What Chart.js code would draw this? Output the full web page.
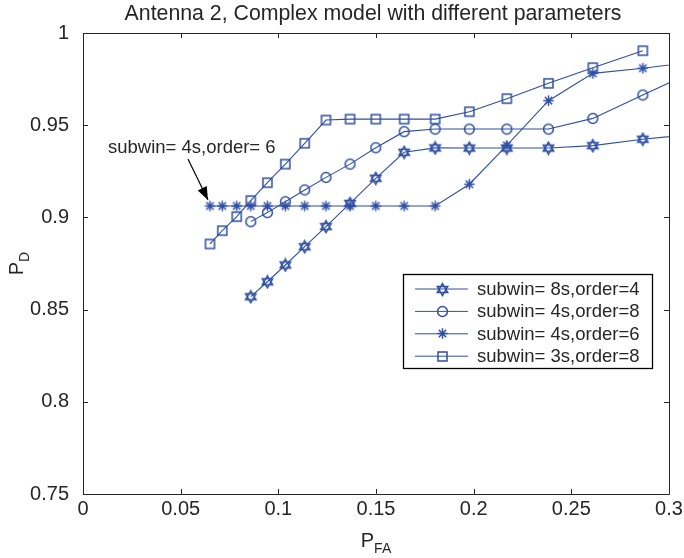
<!DOCTYPE html>
<html>
<head>
<meta charset="utf-8">
<script src="https://cdn.jsdelivr.net/npm/chart.js@4.4.1/dist/chart.umd.min.js"></script>
<style>
  html, body { margin: 0; padding: 0; background: #fff; }
  #wrap { width: 684px; height: 558px; }
</style>
</head>
<body>
<div id="wrap"><canvas id="roc"></canvas></div>
<script>

///////////   DATA  /////////////////

const pfa = [0.065, 0.0713, 0.0787, 0.0859, 0.0944, 0.1036, 0.1135, 0.1244, 0.1367,
             0.1499, 0.1644, 0.1803, 0.1978, 0.217, 0.2383, 0.261, 0.2866, 0.3146];

const pd_8s_o4 = [null, null, null, 0.857, 0.8651, 0.8742, 0.8841, 0.895, 0.9076,
                  0.9212, 0.9353, 0.9377, 0.9376, 0.9376, 0.9376, 0.9389, 0.9424, 0.9453];
const pd_4s_o8 = [null, null, null, 0.8977, 0.9026, 0.9085, 0.9149, 0.9217, 0.9289,
                  0.9378, 0.9465, 0.9479, 0.9479, 0.9479, 0.9479, 0.9537, 0.9664, 0.9802];
const pd_4s_o6 = [0.9062, 0.9062, 0.9062, 0.9062, 0.9062, 0.9062, 0.9062, 0.9062, 0.9062,
                  0.9062, 0.9062, 0.9062, 0.918, 0.939, 0.9633, 0.9781, 0.9809, 0.9845];
const pd_3s_o8 = [0.8856, 0.8928, 0.9004, 0.9091, 0.9188, 0.9289, 0.9402, 0.9528, 0.9533,
                  0.9533, 0.9533, 0.9533, 0.9573, 0.9644, 0.9727, 0.9812, 0.9904, null];

const seriesLabels = ["subwin= 8s,order=4", "subwin= 4s,order=8", "subwin= 4s,order=6", "subwin= 3s,order=8"];
const xTicks = [0, 0.05, 0.1, 0.15, 0.2, 0.25, 0.3];
const yTicks = [0.75, 0.8, 0.85, 0.9, 0.95, 1];

const titleText = "Antenna 2, Complex model with different parameters";
const noteText = "subwin= 4s,order= 6";

const BLUE = "#2f4fa3";
const INK = "#262626";
const FONT = "'Liberation Sans', Arial, sans-serif";

///////////   MARKERS  /////////////////

function makeMarker(kind) {
  const c = document.createElement("canvas");
  c.width = 15; c.height = 15;
  const g = c.getContext("2d");
  const m = 7.5;
  g.strokeStyle = BLUE;
  g.lineWidth = 1.5;
  g.beginPath();
  if (kind === "hex") {
    const r = 6;
    for (let t = 0; t < 2; t++) {
      const start = t === 0 ? -Math.PI / 2 : Math.PI / 2;
      for (let k = 0; k < 3; k++) {
        const a = start + k * 2 * Math.PI / 3;
        const px = m + r * Math.cos(a), py = m + r * Math.sin(a);
        if (k === 0) g.moveTo(px, py); else g.lineTo(px, py);
      }
      g.closePath();
    }
  } else if (kind === "circle") {
    g.arc(m, m, 4.9, 0, Math.PI * 2);
  } else if (kind === "star") {
    const r = 5.2, d = 3.7;
    g.moveTo(m - r, m); g.lineTo(m + r, m);
    g.moveTo(m, m - r); g.lineTo(m, m + r);
    g.moveTo(m - d, m - d); g.lineTo(m + d, m + d);
    g.moveTo(m - d, m + d); g.lineTo(m + d, m - d);
  } else {
    g.rect(3, 3, 9, 9);
  }
  g.stroke();
  return c;
}

const markers = [makeMarker("hex"), makeMarker("circle"), makeMarker("star"), makeMarker("square")];

function pts(ys) {
  return pfa.map((x, i) => ({ x: x, y: ys[i] })).filter(p => p.y !== null);
}

const allSeries = [pd_8s_o4, pd_4s_o8, pd_4s_o6, pd_3s_o8];

///////////   DECORATION PLUGIN  /////////////////

const decor = {
  id: "decor",
  afterDatasetsDraw(chart) {
    const ctx = chart.ctx;
    const a = chart.chartArea;
    const xs = chart.scales.x, ys = chart.scales.y;
    ctx.save();

    // box + inward ticks
    ctx.strokeStyle = INK;
    ctx.lineWidth = 1;
    ctx.beginPath();
    ctx.rect(Math.round(a.left) + 0.5, Math.round(a.top) + 0.5, Math.round(a.right - a.left), Math.round(a.bottom - a.top));
    xTicks.forEach(v => {
      const px = Math.round(xs.getPixelForValue(v)) + 0.5;
      ctx.moveTo(px, a.bottom); ctx.lineTo(px, a.bottom - 5);
      ctx.moveTo(px, a.top); ctx.lineTo(px, a.top + 5);
    });
    yTicks.forEach(v => {
      const py = Math.round(ys.getPixelForValue(v)) + 0.5;
      ctx.moveTo(a.left, py); ctx.lineTo(a.left + 5, py);
      ctx.moveTo(a.right, py); ctx.lineTo(a.right - 5, py);
    });
    ctx.stroke();

    // annotation with arrow pointing at first point of 4s/order 6
    const tx = xs.getPixelForValue(pfa[0]);
    const ty = ys.getPixelForValue(pd_4s_o6[0]);
    const tipX = tx - 2, tipY = ty - 6;
    const sx = tx - 22, sy = ty - 47;
    ctx.strokeStyle = "#000";
    ctx.fillStyle = "#000";
    ctx.lineWidth = 1.2;
    ctx.beginPath();
    ctx.moveTo(sx, sy); ctx.lineTo(tipX, tipY);
    ctx.stroke();
    const ang = Math.atan2(tipY - sy, tipX - sx);
    ctx.beginPath();
    ctx.moveTo(tipX, tipY);
    ctx.lineTo(tipX - 13 * Math.cos(ang) + 5 * Math.sin(ang), tipY - 13 * Math.sin(ang) - 5 * Math.cos(ang));
    ctx.lineTo(tipX - 13 * Math.cos(ang) - 5 * Math.sin(ang), tipY - 13 * Math.sin(ang) + 5 * Math.cos(ang));
    ctx.closePath();
    ctx.fill();
    ctx.fillStyle = INK;
    ctx.font = "18.5px " + FONT;
    ctx.textBaseline = "middle";
    ctx.textAlign = "left";
    ctx.fillText(noteText, tx - 102, ty - 58);

    // legend box
    const lx = 403, ly = 274, lw = 249, lh = 94;
    ctx.fillStyle = "#fff";
    ctx.fillRect(lx, ly, lw, lh);
    ctx.strokeStyle = "#000";
    ctx.lineWidth = 1.3;
    ctx.strokeRect(lx + 0.5, ly + 0.5, lw, lh);
    ctx.font = "18.5px " + FONT;
    seriesLabels.forEach((lab, i) => {
      const ry = ly + 15 + i * 22.4;
      ctx.strokeStyle = BLUE;
      ctx.lineWidth = 1;
      ctx.beginPath();
      ctx.moveTo(lx + 12, ry); ctx.lineTo(lx + 65, ry);
      ctx.stroke();
      ctx.drawImage(markers[i], Math.round(lx + 39 - 7.5), Math.round(ry - 7.5));
      ctx.fillStyle = INK;
      ctx.textBaseline = "middle";
      ctx.fillText(lab, lx + 74, ry + 1);
    });
    ctx.restore();
  },
  afterDraw(chart) {
    const ctx = chart.ctx;
    const a = chart.chartArea;
    ctx.save();
    ctx.fillStyle = INK;
    ctx.textBaseline = "alphabetic";

    // title
    ctx.font = "21.3px " + FONT;
    ctx.textAlign = "center";
    ctx.fillText(titleText, (a.left + a.right) / 2 - 3, 20);

    // x label P_FA
    ctx.textAlign = "left";
    ctx.font = "20px " + FONT;
    const pW = ctx.measureText("P").width;
    ctx.font = "14px " + FONT;
    const sW = ctx.measureText("FA").width;
    let x0 = (a.left + a.right) / 2 - (pW + sW) / 2;
    ctx.font = "20px " + FONT;
    ctx.fillText("P", x0, 547);
    ctx.font = "14px " + FONT;
    ctx.fillText("FA", x0 + pW, 553);

    // y label P_D
    ctx.translate(23, (a.top + a.bottom) / 2);
    ctx.rotate(-Math.PI / 2);
    ctx.font = "20px " + FONT;
    const pW2 = ctx.measureText("P").width;
    ctx.font = "14px " + FONT;
    const dW = ctx.measureText("D").width;
    const y0 = -(pW2 + dW) / 2;
    ctx.font = "20px " + FONT;
    ctx.fillText("P", y0, 0);
    ctx.font = "14px " + FONT;
    ctx.fillText("D", y0 + pW2, 6);
    ctx.restore();
  }
};

///////////   CHART  /////////////////

new Chart(document.querySelector("#roc"), {
  type: "scatter",
  data: {
    datasets: allSeries.map((ys, i) => ({
      label: seriesLabels[i],
      data: pts(ys),
      showLine: true,
      borderColor: BLUE,
      backgroundColor: BLUE,
      borderWidth: 1.1,
      pointStyle: markers[i],
      pointRadius: 5,
      pointHoverRadius: 5
    }))
  },
  options: {
    responsive: true,
    maintainAspectRatio: false,
    animation: false,
    events: [],
    layout: { padding: { left: 0, right: 15, top: 33, bottom: 0 } },
    plugins: {
      legend: { display: false },
      title: { display: false },
      tooltip: { enabled: false }
    },
    scales: {
      x: {
        type: "linear",
        min: 0, max: 0.3,
        grid: { display: false },
        border: { display: false },
        afterBuildTicks: s => { s.ticks = xTicks.map(v => ({ value: v })); },
        afterFit: s => { s.height = 64; },
        ticks: {
          padding: -5,
          color: INK,
          font: { family: FONT, size: 20 },
          maxRotation: 0,
          callback: v => String(+v.toFixed(2))
        }
      },
      y: {
        type: "linear",
        min: 0.75, max: 1,
        grid: { display: false },
        border: { display: false },
        afterBuildTicks: s => { s.ticks = yTicks.map(v => ({ value: v })); },
        afterFit: s => { s.width = 83; },
        ticks: {
          padding: 6,
          color: INK,
          font: { family: FONT, size: 20 },
          callback: v => String(+v.toFixed(2))
        }
      }
    }
  },
  plugins: [decor]
});

</script>
</body>
</html>
